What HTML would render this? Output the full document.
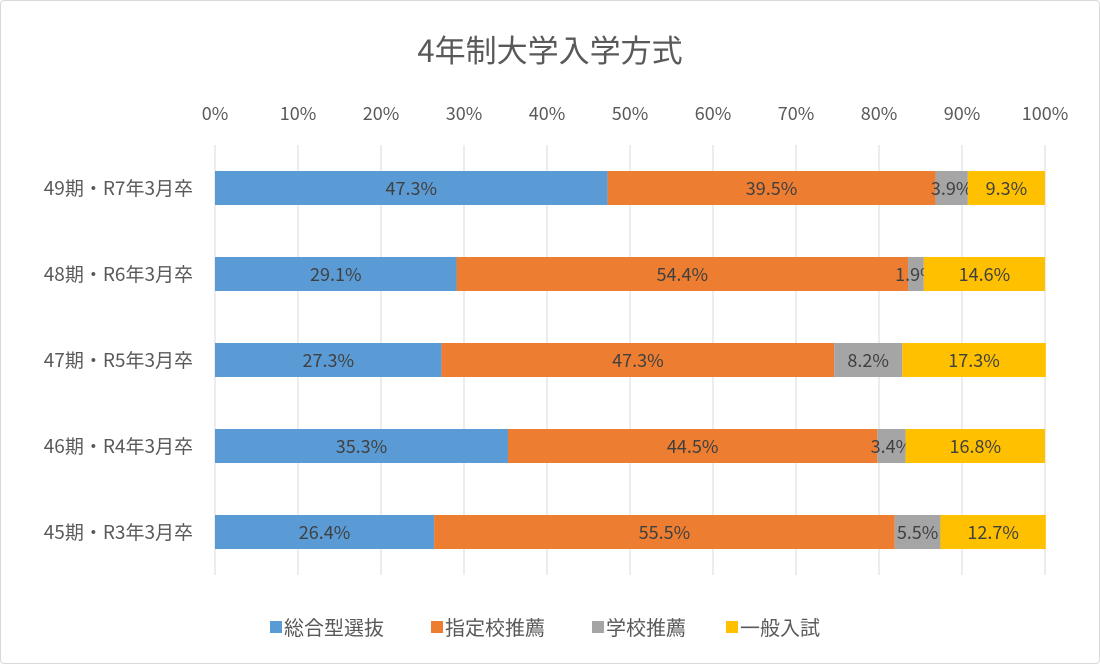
<!DOCTYPE html>
<html><head><meta charset="utf-8">
<style>
html,body{margin:0;padding:0;background:#fff;}
#wrap{width:1098px;height:662px;border:1px solid #d9d9d9;border-radius:4px;overflow:hidden;}
svg text{font-family:"Noto Sans CJK JP","Liberation Sans",sans-serif;}
</style></head>
<body>
<div id="wrap">
<svg id="chart" width="1098" height="662"></svg>
</div>
<script>
const categories = ["49期・R7年3月卒","48期・R6年3月卒","47期・R5年3月卒","46期・R4年3月卒","45期・R3年3月卒"];
const seriesNames = ["総合型選抜","指定校推薦","学校推薦","一般入試"];
const seriesComprehensive = [47.3,29.1,27.3,35.3,26.4];
const seriesDesignated = [39.5,54.4,47.3,44.5,55.5];
const seriesSchool = [3.9,1.9,8.2,3.4,5.5];
const seriesGeneral = [9.3,14.6,17.3,16.8,12.7];
const tickValues = [0,10,20,30,40,50,60,70,80,90,100];

const colors = ["#5B9BD5","#ED7D31","#A5A5A5","#FFC000"];
const series = [seriesComprehensive,seriesDesignated,seriesSchool,seriesGeneral];
const NS = "http://www.w3.org/2000/svg";
const svg = document.getElementById('chart');
const x0 = 214, x1 = 1044, yTop = 144, yBot = 574;
const xs = v => x0 + (x1 - x0) * v / 100;
const band = (yBot - yTop) / categories.length;
const yc = i => yTop + band * (i + 0.5);
function mk(tag, attrs, text){
  const e = document.createElementNS(NS, tag);
  for (const k in attrs) e.setAttribute(k, attrs[k]);
  if (text !== undefined) e.textContent = text;
  svg.appendChild(e);
  return e;
}
let t = mk('text',{x:549,y:61,'text-anchor':'middle','font-size':31,fill:'#595959'},'4年制大学入学方式');



tickValues.forEach(v=>{
  const l = mk('line',{x1:xs(v),x2:xs(v),y1:yTop,y2:yBot,stroke:'#d9d9d9','stroke-width':1});
  
  
  const tx = mk('text',{x:xs(v),y:119,'text-anchor':'middle','font-size':18,fill:'#595959'},v+'%');
  
  
});

categories.forEach((c,i)=>{
  const lab = mk('text',{x:192,y:yc(i)+7,'text-anchor':'end','font-size':19,fill:'#595959'},c);
  
  
  let acc = 0;
  series.forEach((s,j)=>{
    const v = s[i];
    const r = mk('rect',{x:xs(acc),y:yc(i)-17,width:xs(acc+v)-xs(acc),height:34,fill:colors[j]});
    
    
    const vl = mk('text',{x:(xs(acc)+xs(acc+v))/2,y:yc(i)+7,'text-anchor':'middle','font-size':18,fill:'#404040'},v.toFixed(1)+'%');
    
    
    acc += v;
  });
});

const legX = [269,430,591,725];
seriesNames.forEach((n,j)=>{
  const sq = mk('rect',{x:legX[j],y:620,width:12,height:12,fill:colors[j]});
  
  
  const lt = mk('text',{x:legX[j]+14,y:634,'font-size':20,fill:'#595959'},n);
  
  
});
</script>
</body></html>
